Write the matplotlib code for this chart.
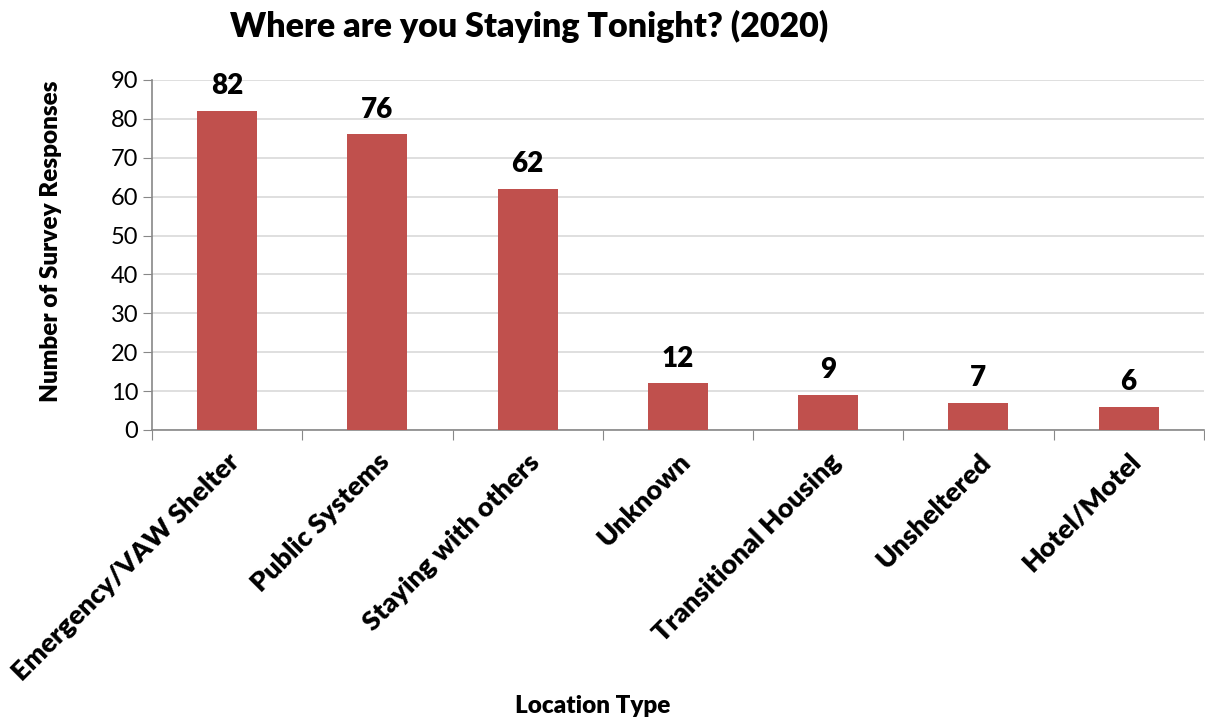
import numpy as np
import matplotlib.pyplot as plt

categories = ["Emergency/VAW Shelter", "Public Systems", "Staying with others",
              "Unknown", "Transitional Housing", "Unsheltered", "Hotel/Motel"]
responses = [82, 76, 62, 12, 9, 7, 6]

plt.rcParams['font.family'] = ['Lato', 'DejaVu Sans']

fig = plt.figure(figsize=(12.05, 7.19), dpi=100)
ax = fig.add_axes([152 / 1205, 1 - 430 / 719, 1 - 152 / 1205 - 0.001, 350 / 719])

x = np.arange(len(categories))
ax.bar(x, responses, width=0.4, color='#C0504D', zorder=3)

for xi, v in zip(x, responses):
    ax.text(xi, v + 3, str(v), ha='center', va='bottom',
            fontsize=20, fontweight='heavy')

ax.set_xlim(-0.5, len(categories) - 0.5)
ax.set_ylim(0, 90)
ax.set_yticks(range(0, 91, 10))
ax.tick_params(axis='y', labelsize=17, length=6.5, color='#888888')
ax.yaxis.grid(True, color='#d9d9d9', linewidth=1.2, zorder=0)

# ticks at category boundaries, labels at centres
ax.set_xticks(np.arange(-0.5, len(categories), 1.0))
ax.set_xticklabels([])
ax.set_xticks(x, minor=True)
ax.set_xticklabels(categories, minor=True, rotation=45, ha='right',
                   rotation_mode='anchor', fontsize=19.5, fontweight='heavy')
ax.tick_params(axis='x', which='major', length=7, color='#888888')
ax.tick_params(axis='x', which='minor', length=0, pad=14)

for s in ['top', 'right']:
    ax.spines[s].set_visible(False)
for s in ['left', 'bottom']:
    ax.spines[s].set_color('#888888')
    ax.spines[s].set_linewidth(1.2)

ax.set_ylabel("Number of Survey Responses", fontsize=17.5, fontweight='heavy')
ax.yaxis.set_label_coords(-0.086, 0.54)
fig.text(593 / 1205, 1 - 706 / 719, "Location Type", ha='center', va='center',
         fontsize=17.5, fontweight='heavy')
fig.text(529 / 1205, 1 - 26 / 719, "Where are you Staying Tonight? (2020)",
         ha='center', va='center', fontsize=24.5, fontweight='heavy')

fig.savefig("out.png", dpi=100)
